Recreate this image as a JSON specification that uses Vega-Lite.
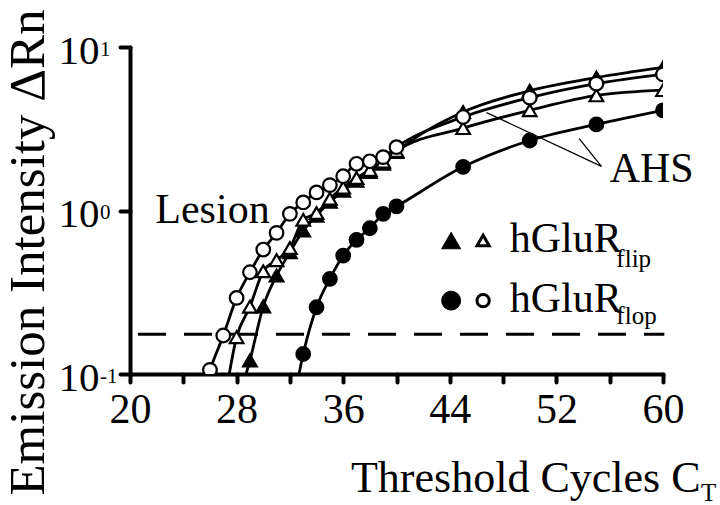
{
  "$schema": "https://vega.github.io/schema/vega-lite/v6.json",
  "width": 533,
  "height": 327,
  "autosize": {"type": "none"},
  "padding": {"left": 130, "top": 47, "right": 57, "bottom": 131},
  "background": "white",
  "config": {"view": {"stroke": null}, "font": "Liberation Serif"},
  "datasets": {
    "series": [
      {"s": "FC", "x": 32, "y": 0.05},
      {"s": "FC", "x": 33, "y": 0.1325},
      {"s": "FC", "x": 34, "y": 0.256},
      {"s": "FC", "x": 35, "y": 0.382},
      {"s": "FC", "x": 36, "y": 0.53},
      {"s": "FC", "x": 37, "y": 0.662},
      {"s": "FC", "x": 38, "y": 0.779},
      {"s": "FC", "x": 39, "y": 0.954},
      {"s": "FC", "x": 40, "y": 1.06},
      {"s": "FC", "x": 45, "y": 1.85},
      {"s": "FC", "x": 50, "y": 2.68},
      {"s": "FC", "x": 55, "y": 3.36},
      {"s": "FC", "x": 60, "y": 4.1},
      {"s": "FT", "x": 28, "y": 0.065},
      {"s": "FT", "x": 29, "y": 0.121},
      {"s": "FT", "x": 30, "y": 0.259},
      {"s": "FT", "x": 31, "y": 0.4},
      {"s": "FT", "x": 32, "y": 0.555},
      {"s": "FT", "x": 33, "y": 0.754},
      {"s": "FT", "x": 34, "y": 0.93},
      {"s": "FT", "x": 35, "y": 1.13},
      {"s": "FT", "x": 36, "y": 1.32},
      {"s": "FT", "x": 37, "y": 1.52},
      {"s": "FT", "x": 38, "y": 1.72},
      {"s": "FT", "x": 39, "y": 1.93},
      {"s": "FT", "x": 40, "y": 2.28},
      {"s": "FT", "x": 45, "y": 4.0},
      {"s": "FT", "x": 50, "y": 5.4},
      {"s": "FT", "x": 55, "y": 6.5},
      {"s": "FT", "x": 60, "y": 7.5},
      {"s": "OT", "x": 27, "y": 0.06},
      {"s": "OT", "x": 28, "y": 0.168},
      {"s": "OT", "x": 29, "y": 0.258},
      {"s": "OT", "x": 30, "y": 0.425},
      {"s": "OT", "x": 31, "y": 0.497},
      {"s": "OT", "x": 32, "y": 0.59},
      {"s": "OT", "x": 33, "y": 0.877},
      {"s": "OT", "x": 34, "y": 0.965},
      {"s": "OT", "x": 35, "y": 1.18},
      {"s": "OT", "x": 36, "y": 1.38},
      {"s": "OT", "x": 37, "y": 1.58},
      {"s": "OT", "x": 38, "y": 1.77},
      {"s": "OT", "x": 39, "y": 1.99},
      {"s": "OT", "x": 40, "y": 2.31},
      {"s": "OT", "x": 45, "y": 3.19},
      {"s": "OT", "x": 50, "y": 4.1},
      {"s": "OT", "x": 55, "y": 5.06},
      {"s": "OT", "x": 60, "y": 5.45},
      {"s": "OC", "x": 25, "y": 0.06},
      {"s": "OC", "x": 26, "y": 0.106},
      {"s": "OC", "x": 27, "y": 0.172},
      {"s": "OC", "x": 28, "y": 0.292},
      {"s": "OC", "x": 29, "y": 0.419},
      {"s": "OC", "x": 30, "y": 0.577},
      {"s": "OC", "x": 31, "y": 0.73},
      {"s": "OC", "x": 32, "y": 0.954},
      {"s": "OC", "x": 33, "y": 1.12},
      {"s": "OC", "x": 34, "y": 1.29},
      {"s": "OC", "x": 35, "y": 1.43},
      {"s": "OC", "x": 36, "y": 1.62},
      {"s": "OC", "x": 37, "y": 1.93},
      {"s": "OC", "x": 38, "y": 2.0},
      {"s": "OC", "x": 39, "y": 2.12},
      {"s": "OC", "x": 40, "y": 2.44},
      {"s": "OC", "x": 45, "y": 3.73},
      {"s": "OC", "x": 50, "y": 4.9},
      {"s": "OC", "x": 55, "y": 5.97},
      {"s": "OC", "x": 60, "y": 6.8}
    ],
    "threshold": [{"x": 20.6, "x2": 60.1, "y": 0.175}],
    "legendSymbols": [
      {"s": "FT", "x": 44.1, "y": 0.655},
      {"s": "OT", "x": 46.5, "y": 0.655},
      {"s": "FC", "x": 44.1, "y": 0.281},
      {"s": "OC", "x": 46.5, "y": 0.281}
    ],
    "bigText": [
      {"t": "Lesion", "x": 21.9, "y": 0.844},
      {"t": "AHS", "x": 56.0, "y": 1.49},
      {"t": "hGluR", "x": 48.5, "y": 0.555},
      {"t": "hGluR", "x": 48.5, "y": 0.238}
    ],
    "smallText": [
      {"t": "flip", "x": 56.5, "y": 0.45},
      {"t": "flop", "x": 56.5, "y": 0.203},
      {"t": "T", "x": 62.85, "y": 0.0168}
    ],
    "exponents": [
      {"t": "1", "x": 17.75, "y": 8.81},
      {"t": "0", "x": 17.75, "y": 0.881},
      {"t": "-1", "x": 17.75, "y": 0.0881}
    ],
    "pointers": [
      {"x": 55.38, "y": 1.86, "x2": 46.76, "y2": 3.97},
      {"x": 55.38, "y": 1.86, "x2": 53.71, "y2": 2.75}
    ]
  },
  "encoding": {
    "x": {
      "field": "x",
      "type": "quantitative",
      "scale": {"domain": [20, 60], "nice": false, "zero": false},
      "axis": {
        "values": [20, 24, 28, 32, 36, 40, 44, 48, 52, 56, 60],
        "labelExpr": "(datum.value - 20) % 8 == 0 ? datum.label : ''",
        "labelFont": "Liberation Serif",
        "labelFontSize": 42,
        "labelColor": "black",
        "labelPadding": 7,
        "labelFlush": false,
        "labelOverlap": false,
        "tickSize": 8,
        "tickWidth": 4,
        "tickCap": "round",
        "tickColor": "black",
        "domainColor": "black",
        "domainWidth": 4,
        "domainCap": "round",
        "grid": false,
        "title": "Threshold Cycles C",
        "titleFont": "Liberation Serif",
        "titleFontSize": 44,
        "titleFontWeight": "normal",
        "titleColor": "black",
        "titleX": 570,
        "titleY": 117,
        "titleAlign": "right",
        "titleBaseline": "alphabetic"
      }
    },
    "y": {
      "field": "y",
      "type": "quantitative",
      "scale": {"type": "log", "domain": [0.1, 10], "nice": false},
      "axis": {
        "values": [0.1, 1, 10],
        "labelExpr": "'10'",
        "labelFont": "Liberation Serif",
        "labelFontSize": 41,
        "labelColor": "black",
        "labelAlign": "left",
        "labelBaseline": "alphabetic",
        "labelPadding": 62,
        "labelOffset": 16,
        "tickSize": 10,
        "tickWidth": 4,
        "tickCap": "round",
        "tickColor": "black",
        "domainColor": "black",
        "domainWidth": 4,
        "domainCap": "round",
        "grid": false,
        "title": "Emission Intensity ΔRn",
        "titleFont": "Liberation Serif",
        "titleFontSize": 51,
        "titleFontWeight": "normal",
        "titleColor": "black",
        "titleAngle": -90,
        "titleX": -102,
        "titleY": 205,
        "titleAlign": "center",
        "titleBaseline": "middle"
      }
    }
  },
  "layer": [
    {
      "data": {"name": "threshold"},
      "mark": {"type": "rule", "color": "black", "strokeWidth": 3, "strokeDash": [28, 18]},
      "encoding": {"x2": {"field": "x2"}}
    },
    {
      "data": {"name": "series"},
      "mark": {"type": "line", "color": "black", "strokeWidth": 2.8, "interpolate": "monotone", "clip": true},
      "encoding": {"detail": {"field": "s"}}
    },
    {
      "data": {"name": "series"},
      "transform": [{"filter": "datum.y >= 0.1"}],
      "mark": {"type": "point", "filled": true, "stroke": "black", "strokeWidth": 2.2, "size": 185, "opacity": 1, "clip": true},
      "encoding": {
        "shape": {"field": "s", "type": "nominal", "scale": {"domain": ["FC", "FT", "OT", "OC"], "range": ["circle", "triangle-up", "triangle-up", "circle"]}, "legend": null},
        "fill": {"field": "s", "type": "nominal", "scale": {"domain": ["FC", "FT", "OT", "OC"], "range": ["black", "black", "white", "white"]}, "legend": null}
      }
    },
    {
      "data": {"name": "pointers"},
      "mark": {"type": "rule", "color": "black", "strokeWidth": 1.3},
      "encoding": {"x2": {"field": "x2"}, "y2": {"field": "y2"}}
    },
    {
      "data": {"name": "legendSymbols"},
      "transform": [{"filter": "datum.s == 'FT' || datum.s == 'FC'"}],
      "mark": {"type": "point", "filled": true, "stroke": "black", "strokeWidth": 1, "size": 360, "opacity": 1},
      "encoding": {
        "shape": {"field": "s", "type": "nominal", "legend": null},
        "fill": {"field": "s", "type": "nominal", "legend": null}
      }
    },
    {
      "data": {"name": "legendSymbols"},
      "transform": [{"filter": "datum.s == 'OT' || datum.s == 'OC'"}],
      "mark": {"type": "point", "filled": true, "stroke": "black", "strokeWidth": 3, "size": 150, "opacity": 1},
      "encoding": {
        "shape": {"field": "s", "type": "nominal", "legend": null},
        "fill": {"field": "s", "type": "nominal", "legend": null}
      }
    },
    {
      "data": {"name": "bigText"},
      "mark": {"type": "text", "font": "Liberation Serif", "fontSize": 42, "align": "left", "baseline": "alphabetic", "color": "black"},
      "encoding": {"text": {"field": "t"}}
    },
    {
      "data": {"name": "smallText"},
      "mark": {"type": "text", "font": "Liberation Serif", "fontSize": 25, "align": "left", "baseline": "alphabetic", "color": "black"},
      "encoding": {"text": {"field": "t"}}
    },
    {
      "data": {"name": "exponents"},
      "mark": {"type": "text", "font": "Liberation Serif", "fontSize": 21, "align": "left", "baseline": "alphabetic", "color": "black"},
      "encoding": {"text": {"field": "t"}}
    }
  ]
}
